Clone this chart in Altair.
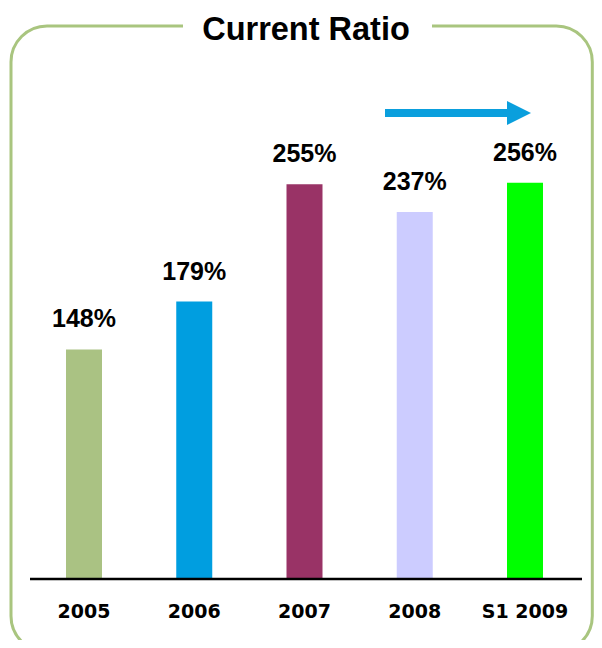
import altair as alt
import pandas as pd

# ---- data ----
categories = ["2005", "2006", "2007", "2008", "S1 2009"]
values = [148, 179, 255, 237, 256]
bar_colors = ["#aac283", "#009ee0", "#993366", "#ccccff", "#00ff00"]
title_text = "Current Ratio"

df = pd.DataFrame({
    "cat": categories,
    "val": values,
    "label": [f"{v}%" for v in values],
})
one = pd.DataFrame({"a": [0]})

BORDER = "#a9c57f"
ARROW = "#0a9fdd"

x_enc = alt.X("cat:N", sort=categories, axis=None,
              scale=alt.Scale(type="point", range=[76, 517], padding=0))
y_enc = alt.Y("val:Q", axis=None,
              scale=alt.Scale(domain=[0, 300], range=[570, 106.8]))

border = alt.Chart(one).mark_rect(
    fillOpacity=0, stroke=BORDER, strokeWidth=3, cornerRadius=36
).encode(x=alt.value(3), x2=alt.value(584.3), y=alt.value(18), y2=alt.value(644))

gap = alt.Chart(one).mark_rect(color="white").encode(
    x=alt.value(175), x2=alt.value(424), y=alt.value(8), y2=alt.value(28))

title = alt.Chart(one).mark_text(
    font="Liberation Sans", fontSize=32.5, fontWeight="bold", color="black",
    align="center", baseline="alphabetic"
).encode(x=alt.value(298), y=alt.value(32), text=alt.value(title_text))

axis_line = alt.Chart(one).mark_rule(color="black", strokeWidth=2.5).encode(
    x=alt.value(22), x2=alt.value(574), y=alt.value(571))

bars = alt.Chart(df).mark_bar(size=36).encode(
    x=x_enc, y=y_enc,
    color=alt.Color("cat:N", scale=alt.Scale(domain=categories, range=bar_colors), legend=None),
)

value_labels = alt.Chart(df).mark_text(
    font="Liberation Sans", fontSize=25, fontWeight="bold", color="black",
    align="center", baseline="alphabetic", dy=-22
).encode(x=x_enc, y=y_enc, text="label:N")

cat_labels = alt.Chart(df).mark_text(
    font="DejaVu Sans", fontSize=19, fontWeight="bold", color="black",
    align="center", baseline="alphabetic"
).encode(x=x_enc, y=alt.value(610), text="cat:N")

arrow_shaft = alt.Chart(one).mark_rule(color=ARROW, strokeWidth=8).encode(
    x=alt.value(377), x2=alt.value(501), y=alt.value(105))

arrow_head = alt.Chart(one).mark_point(
    shape="M -1 -1 L 1 0 L -1 1 Z", filled=True, size=576, color=ARROW, opacity=1
).encode(x=alt.value(511), y=alt.value(105))

chart = alt.layer(
    border, gap, title, bars, axis_line, value_labels, cat_labels, arrow_shaft, arrow_head
).properties(
    width=586, height=632, autosize="none", padding=0, background="white"
).configure_view(strokeWidth=0)

chart.save("out.html", embed_options={"renderer": "svg", "actions": False})
